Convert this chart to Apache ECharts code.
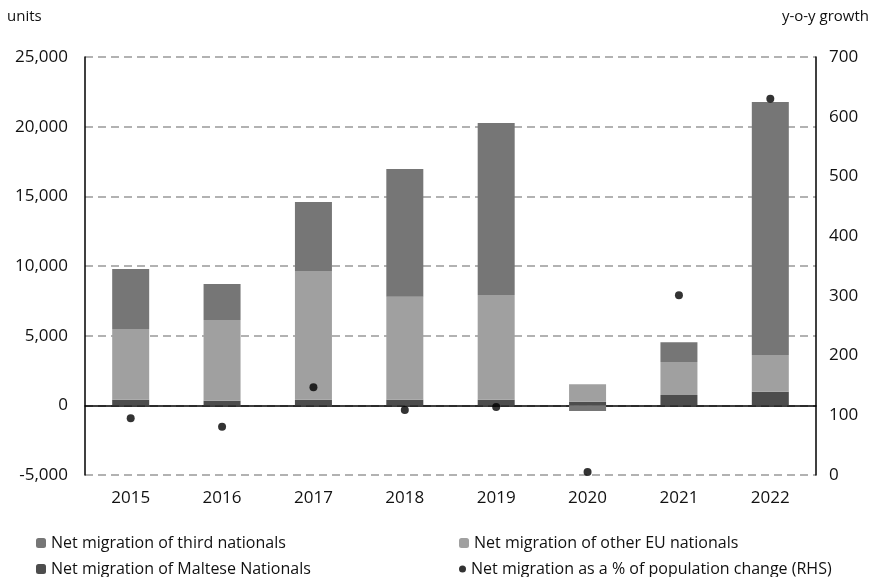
<!DOCTYPE html>
<html>
<head>
<meta charset="utf-8">
<script src="https://cdn.jsdelivr.net/npm/echarts@6/dist/echarts.min.js"></script>
<style>html,body{margin:0;padding:0;background:#fff}#c{width:877px;height:577px}</style>
</head>
<body>
<div id="c"></div>
<script>
const years = ['2015','2016','2017','2018','2019','2020','2021','2022'];
const maltese = [400, 330, 400, 400, 400, 250, 740, 980];
const otherEU = [5080, 5790, 9240, 7400, 7520, 1260, 2370, 2630];
const thirdNat = [4300, 2580, 4950, 9160, 12340, -410, 1410, 18160];
const growthPct = [95, 81, 147, 109, 114, 5, 301, 630];

const FONT = '"Open Sans", sans-serif';
const chart = echarts.init(document.getElementById('c'));
const legendText = {fontFamily: FONT, fontSize: 16, color: '#111'};
chart.setOption({
  animation: false,
  grid: {left: 85, right: 61, top: 57, bottom: 102},
  graphic: [
    {type: 'text', left: 7, top: 9, style: {text: 'units', font: '15px ' + FONT, fill: '#111'}},
    {type: 'text', right: 8, top: 9, style: {text: 'y-o-y growth', font: '15px ' + FONT, fill: '#111'}}
  ],
  legend: [
    {data: ['Net migration of third nationals'], left: 31, top: 530, itemWidth: 10, itemHeight: 10, itemGap: 4, textStyle: legendText},
    {data: ['Net migration of other EU nationals'], left: 454, top: 530, itemWidth: 10, itemHeight: 10, textStyle: legendText},
    {data: ['Net migration of Maltese Nationals'], left: 31, top: 556, itemWidth: 10, itemHeight: 10, textStyle: legendText},
    {data: ['Net migration as a % of population change (RHS)'], left: 454, top: 556, itemWidth: 7, itemHeight: 7, textStyle: legendText}
  ],
  xAxis: {
    type: 'category', data: years,
    axisLine: {onZero: true, lineStyle: {color: '#000', width: 1.5}},
    axisTick: {show: false},
    axisLabel: {fontFamily: FONT, fontSize: 17, color: '#111', margin: 15}
  },
  yAxis: [
    {
      type: 'value', min: -5000, max: 25000, interval: 5000,
      axisLine: {show: true, lineStyle: {color: '#000', width: 1.5}},
      axisTick: {show: false},
      axisLabel: {fontFamily: FONT, fontSize: 17, color: '#111', margin: 17,
        formatter: v => v.toLocaleString('en-US')},
      splitLine: {lineStyle: {color: '#999', width: 1.5, type: [8, 5]}}
    },
    {
      type: 'value', min: 0, max: 700, interval: 100,
      axisLine: {show: true, lineStyle: {color: '#000', width: 1.5}},
      axisTick: {show: false},
      axisLabel: {fontFamily: FONT, fontSize: 17, color: '#111', margin: 13},
      splitLine: {show: false}
    }
  ],
  series: [
    {name: 'Net migration of Maltese Nationals', type: 'bar', stack: 's', data: maltese, barWidth: 37,
      itemStyle: {color: '#4d4d4d'}},
    {name: 'Net migration of other EU nationals', type: 'bar', stack: 's', data: otherEU,
      itemStyle: {color: '#a0a0a0'}},
    {name: 'Net migration of third nationals', type: 'bar', stack: 's', data: thirdNat,
      itemStyle: {color: '#767676'}},
    {name: 'Net migration as a % of population change (RHS)', type: 'scatter', yAxisIndex: 1,
      data: growthPct, symbolSize: 8, itemStyle: {color: '#000'}, z: 5}
  ]
});
</script>
</body>
</html>
